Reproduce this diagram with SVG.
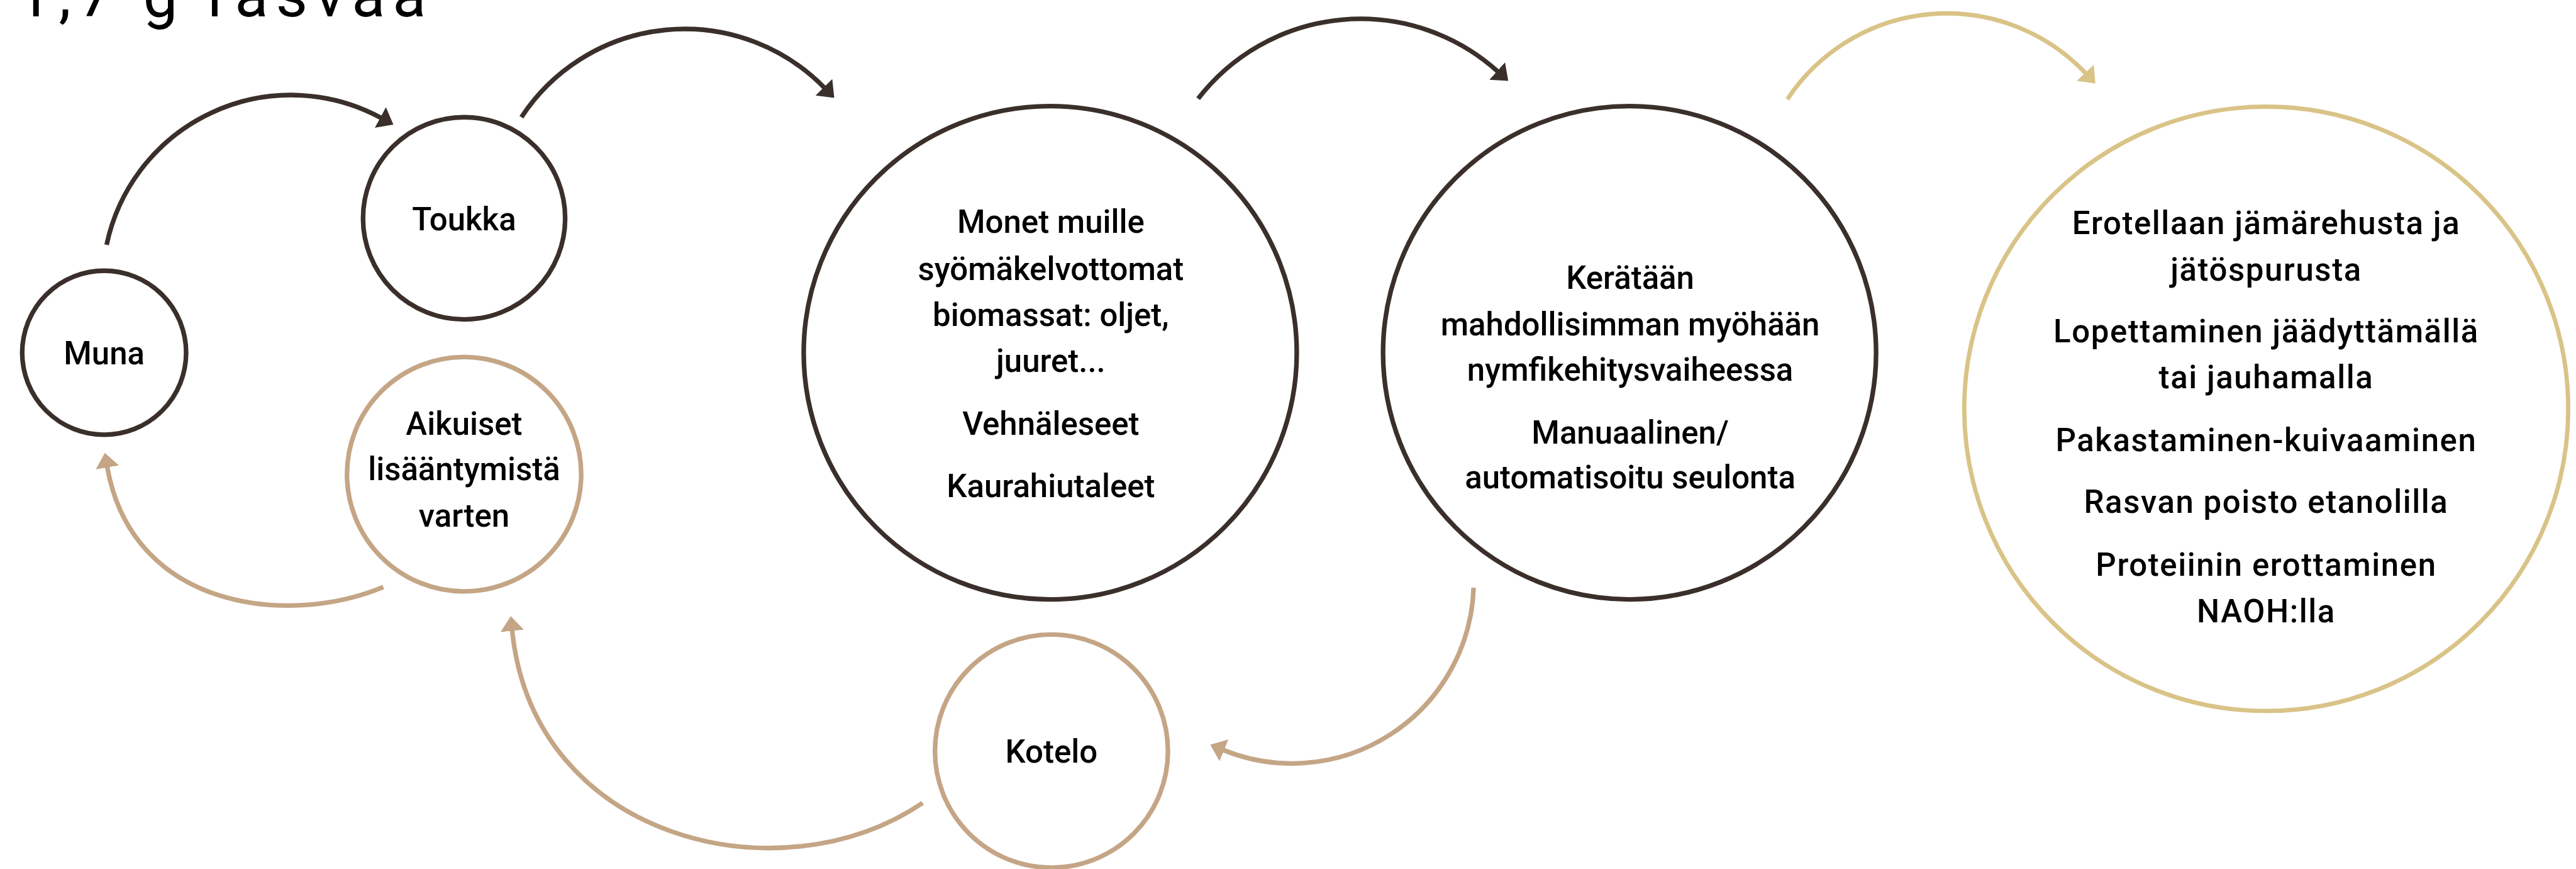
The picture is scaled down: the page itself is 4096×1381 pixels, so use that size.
<svg xmlns="http://www.w3.org/2000/svg" width="4096" height="1381" viewBox="0 0 4096 1381">
<style>
.dk{fill:none;stroke:#3a2f2a;stroke-width:7.5}
.tn{fill:none;stroke:#c4a585;stroke-width:7.5}
.gd{fill:none;stroke:#d9c387;stroke-width:7}
.t{font-family:Roboto,"DejaVu Sans",sans-serif;font-size:52px;font-weight:500;fill:#000;text-anchor:middle}
.w{letter-spacing:1.6px}
.top{font-family:Roboto,"Open Sans",sans-serif;font-weight:400;font-size:100px;fill:#000;letter-spacing:12px}
</style>
<defs>
<marker id="ad" markerUnits="userSpaceOnUse" markerWidth="24" markerHeight="38" viewBox="0 0 24 38" refX="1" refY="19" orient="auto"><path d="M0,0 L24,19 L0,38 z" fill="#3a2f2a"/></marker>
<marker id="at" markerUnits="userSpaceOnUse" markerWidth="24" markerHeight="38" viewBox="0 0 24 38" refX="1" refY="19" orient="auto"><path d="M0,0 L24,19 L0,38 z" fill="#c4a585"/></marker>
<marker id="ag" markerUnits="userSpaceOnUse" markerWidth="24" markerHeight="38" viewBox="0 0 24 38" refX="1" refY="19" orient="auto"><path d="M0,0 L24,19 L0,38 z" fill="#d9c387"/></marker>
</defs>
<rect width="4096" height="1381" fill="#fff"/>
<g transform="scale(0.98)">
<text class="top" x="-41" y="27">11,7 g rasvaa</text>
<g id="connectors">
<path class="dk" d="M173,397 A306,306 0 0 1 618,191" marker-end="url(#ad)"/>
<path class="dk" d="M846,190 A317,317 0 0 1 1337.5,142.2" marker-end="url(#ad)"/>
<path class="dk" d="M1944,160 A333,333 0 0 1 2430,115.8" marker-end="url(#ad)"/>
<path class="gd" d="M2900,161 A310,310 0 0 1 3384,118.8" marker-end="url(#ag)"/>
<path class="tn" d="M2391,953 A295,295 0 0 1 1985,1216.3" marker-end="url(#at)"/>
<path class="tn" d="M1497,1302 C1265,1459 865,1362 831,1022" marker-end="url(#at)"/>
<path class="tn" d="M622,952 C466,1017 214,987 174,757" marker-end="url(#at)"/>
</g>
<g id="muna"><circle class="dk" cx="169" cy="572" r="133"/><text class="t" x="169" y="591">Muna</text></g>
<g id="toukka"><circle class="dk" cx="753" cy="354" r="164"/><text class="t" x="753" y="373">Toukka</text></g>
<g id="aikuiset"><circle class="tn" cx="753" cy="769" r="190"/>
<text class="t" x="753" y="705">Aikuiset</text><text class="t" x="753" y="779">lisääntymistä</text><text class="t" x="753" y="854">varten</text></g>
<g id="biomassat"><circle class="dk" cx="1704" cy="572" r="400"/>
<text class="t" x="1705" y="378">Monet muille</text>
<text class="t" x="1705" y="454">syömäkelvottomat</text>
<text class="t" x="1705" y="529">biomassat: oljet,</text>
<text class="t" x="1705" y="603">juuret...</text>
<text class="t" x="1705" y="705">Vehnäleseet</text>
<text class="t" x="1705" y="806">Kaurahiutaleet</text></g>
<g id="keraily"><circle class="dk" cx="2644" cy="572" r="400"/>
<text class="t" x="2645" y="468">Kerätään</text>
<text class="t" x="2645" y="544">mahdollisimman myöhään</text>
<text class="t" x="2645" y="617">nymfikehitysvaiheessa</text>
<text class="t" x="2645" y="719">Manuaalinen/</text>
<text class="t" x="2645" y="792">automatisoitu seulonta</text></g>
<g id="kotelo"><circle class="tn" cx="1706" cy="1218" r="189"/><text class="t" x="1706" y="1237">Kotelo</text></g>
<g id="kasittely"><circle class="gd" cx="3677" cy="663" r="490"/>
<text class="t w" x="3677" y="380">Erotellaan jämärehusta ja</text>
<text class="t w" x="3677" y="455">jätöspurusta</text>
<text class="t w" x="3677" y="555">Lopettaminen jäädyttämällä</text>
<text class="t w" x="3677" y="630">tai jauhamalla</text>
<text class="t w" x="3677" y="732">Pakastaminen-kuivaaminen</text>
<text class="t w" x="3677" y="832">Rasvan poisto etanolilla</text>
<text class="t w" x="3677" y="934">Proteiinin erottaminen</text>
<text class="t w" x="3677" y="1009">NAOH:lla</text></g>
</g>
</svg>
